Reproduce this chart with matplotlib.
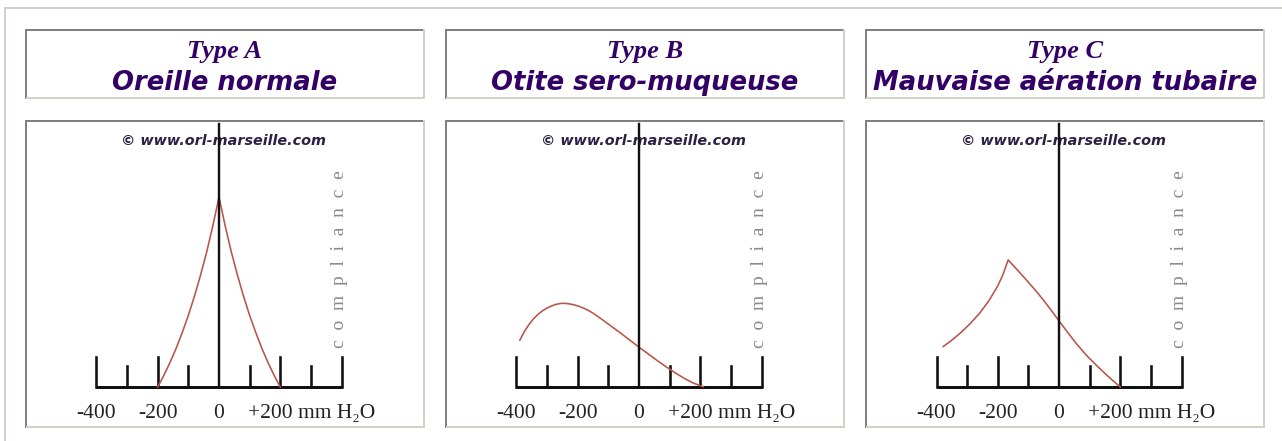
import matplotlib
matplotlib.use('Agg')
import matplotlib.pyplot as plt
from matplotlib.lines import Line2D

# tympanogram curves, pressure in daPa (mm H2O), compliance arbitrary units
types = ['Type A', 'Type B', 'Type C']
titles = ['Oreille normale', 'Otite sero-muqueuse', 'Mauvaise aération tubaire']

a_x = [-200, -180, -160, -140, -120, -100, -80, -60, -40, -20, 0,
       20, 40, 60, 80, 100, 120, 140, 160, 180, 200]
a_y = [0, 38, 80, 126, 178, 234, 297, 366, 442, 527, 620,
       527, 442, 366, 297, 234, 178, 126, 80, 38, 0]

b_x = [-389, -375, -360, -345, -330, -315, -300, -285, -270, -255, -240, -225,
       -210, -195, -180, -165, -150, -120, -90, -60, -30, 0, 30, 60, 90, 120,
       150, 175, 195, 210]
b_y = [153, 180, 203, 222, 237, 249, 258, 265, 270, 273, 273, 271,
       268, 263, 257, 250, 241, 220, 198, 176, 153, 130, 108, 86, 65, 45,
       27, 14, 6, 1]

c_x = [-378, -350, -320, -290, -260, -230, -200, -183, -166, -135, -105, -78,
       -51, -25, 0, 30, 58, 90, 123, 160, 200]
c_y = [132, 153, 178, 207, 240, 280, 330, 367, 415, 381, 348, 317,
       284, 250, 216, 176, 140, 103, 70, 35, 0]

curves = [(a_x, a_y), (b_x, b_y), (c_x, c_y)]

major_ticks = [-400, -200, 200, 400]
minor_ticks = [-300, -100, 100, 300]
tick_labels = ['-400', '-200', '0', '+200 mm H\u2082O']
label_pos = [-400, -200, 0, 95]

W, H = 1282, 441
fig = plt.figure(figsize=(W / 100, H / 100), dpi=100)
fig.patch.set_facecolor('white')

PT = 0.72  # points per pixel at 100 dpi
PURPLE = '#330066'
DARK = '#808080'
LIGHT = '#d4d0c8'


def fline(xs, ys, color, lw=2):
    fig.add_artist(Line2D([x / W for x in xs], [1 - y / H for y in ys],
                          color=color, lw=lw * PT, transform=fig.transFigure,
                          solid_capstyle='butt'))


def box(x0, y0, x1, y1):
    fline([x0 - 1, x1 + 1], [y0, y0], DARK)
    fline([x0, x0], [y0, y1 + 1], DARK)
    fline([x0, x1 + 1], [y1, y1], LIGHT)
    fline([x1, x1], [y0 - 1, y1 + 1], LIGHT)


# outer frame
fline([4, W], [7.7, 7.7], LIGHT)
fline([5, 5], [7, H], LIGHT)

s = 0.30625  # pixels per data unit
for i in range(3):
    x0 = 25 + 420 * i
    cx = x0 + 200

    box(x0 + 1, 30, x0 + 399, 98)
    fig.text(cx / W, 1 - 58 / H, types[i], ha='center', va='baseline',
             fontsize=19, fontweight='bold', fontstyle='italic',
             family='Liberation Serif', color=PURPLE)
    fig.text(cx / W, 1 - 90 / H, titles[i], ha='center', va='baseline',
             fontsize=18.6, fontweight='bold', fontstyle='italic',
             family='DejaVu Sans', color=PURPLE)

    box(x0 + 1, 121, x0 + 399, 427)

    ax = fig.add_axes([(x0 + 2) / W, 1 - 426 / H, 396 / W, 304 / H])
    ax.set_xlim(-192 / s, 204 / s)
    ax.set_ylim(-39 / s, 265 / s)
    ax.axis('off')

    # axis frame
    ax.plot([-400, 400], [0, 0], color='#111111', lw=3 * PT, solid_capstyle='butt')
    ax.plot([0, 0], [0, 263 / s], color='#111111', lw=2.4 * PT, zorder=4)
    for t in major_ticks:
        ax.plot([t, t], [0, 30 / s], color='#111111', lw=2.6 * PT)
    for t in minor_ticks:
        ax.plot([t, t], [0, 21 / s], color='#111111', lw=2.6 * PT)

    for lab, xp in zip(tick_labels, label_pos):
        ax.text(xp, -31 / s, lab, ha='left' if xp == label_pos[-1] else 'center',
                va='baseline', fontsize=15.5, color='#222222',
                family=['Liberation Serif', 'DejaVu Serif'])

    ax.text(15, 803, '\u00a9 www.orl-marseille.com', ha='center', va='center',
            fontsize=10.4, fontweight='bold', fontstyle='italic',
            family='DejaVu Sans', color='#2b2145', zorder=3)
    ax.text(395, 416, '\u2002'.join('compliance'), rotation=90, ha='center',
            va='center', fontsize=14, color='#8a8a8a',
            family=['Liberation Serif', 'DejaVu Serif'])

    xs, ys = curves[i]
    ax.plot(xs, ys, color='#b8544a', lw=1.6 * PT, zorder=3)

fig.savefig('out.png', dpi=100)
